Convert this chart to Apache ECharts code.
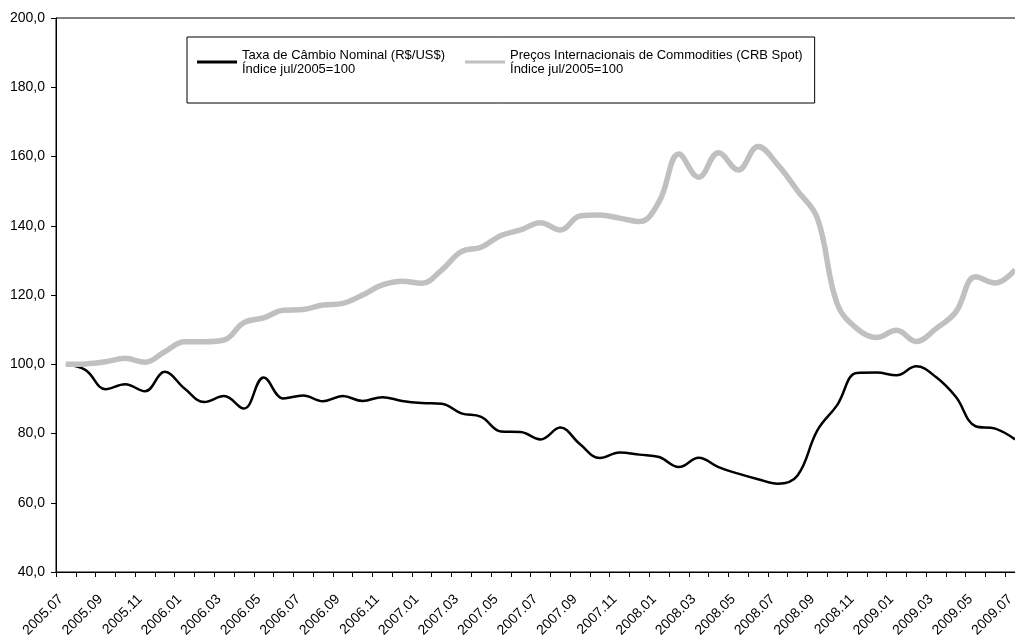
<!DOCTYPE html>
<html>
<head>
<meta charset="utf-8">
<script src="https://cdn.jsdelivr.net/npm/echarts@6/dist/echarts.min.js"></script>
<style>
html,body{margin:0;padding:0;background:#fff;}
#chart{width:1015px;height:636px;}
</style>
</head>
<body>
<div id="chart"></div>
<script>
// Months 2005.07 .. 2009.07
const months = [
  '2005.07','2005.08','2005.09','2005.10','2005.11','2005.12',
  '2006.01','2006.02','2006.03','2006.04','2006.05','2006.06','2006.07','2006.08','2006.09','2006.10','2006.11','2006.12',
  '2007.01','2007.02','2007.03','2007.04','2007.05','2007.06','2007.07','2007.08','2007.09','2007.10','2007.11','2007.12',
  '2008.01','2008.02','2008.03','2008.04','2008.05','2008.06','2008.07','2008.08','2008.09','2008.10','2008.11','2008.12',
  '2009.01','2009.02','2009.03','2009.04','2009.05','2009.06','2009.07'
];
const seriesNames = [
  'Taxa de Câmbio Nominal (R$/US$)\nÍndice jul/2005=100',
  'Preços Internacionais de Commodities (CRB Spot)\nÍndice jul/2005=100'
];
const cambio = [
  100.0, 98.3, 92.8, 94.2, 92.2, 97.8,
  93.0, 89.1, 90.8, 87.2, 96.2, 90.1, 91.0, 89.3, 90.8, 89.4, 90.5, 89.4,
  88.8, 88.6, 85.8, 84.8, 80.6, 80.4, 78.3, 81.7, 76.9, 72.9, 74.5, 73.9,
  73.2, 70.3, 73.0, 70.3, 68.4, 66.8, 65.5, 67.9, 80.9, 88.2, 97.5, 97.6,
  96.8, 99.4, 96.3, 90.6, 82.1, 81.4, 78.3
];
const crb = [
  100.0, 100.1, 100.7, 101.7, 100.6, 103.6,
  106.5, 106.5, 107.0, 112.0, 113.4, 115.6, 115.8, 117.1, 117.6, 120.0, 122.9, 124.0,
  123.4, 127.2, 132.5, 133.8, 137.2, 138.8, 140.9, 138.8, 142.8, 143.1, 142.2, 141.2,
  147.0, 160.7, 154.0, 161.1, 156.1, 162.9, 157.6, 150.1, 142.2, 117.5, 110.3, 107.7,
  109.8, 106.6, 110.3, 115.1, 125.3, 123.5, 127.3
];
const yTicks = { min: 40, max: 200, step: 20 };

const chart = echarts.init(document.getElementById('chart'), null, {renderer: 'canvas'});
const font = '"Liberation Sans", Arial, sans-serif';
chart.setOption({
  animation: false,
  backgroundColor: '#fff',
  textStyle: { fontFamily: font },
  grid: {
    left: 56, top: 18, width: 969, height: 554,
    show: true, borderColor: '#000', borderWidth: 1, backgroundColor: 'transparent',
    containLabel: false,
    outerBoundsMode: 'none'
  },
  legend: {
    left: 187, top: 37,
    orient: 'horizontal',
    backgroundColor: '#fff',
    borderColor: '#000', borderWidth: 1, borderRadius: 0,
    padding: [4, 12, 20, 10],
    itemGap: 20,
    itemWidth: 40, itemHeight: 3,
    selectedMode: false,
    textStyle: { fontFamily: font, fontSize: 13, color: '#000', lineHeight: 14, padding: [14, 0, 0, 0] },
    data: [
      { name: seriesNames[0], icon: 'rect', itemStyle: { color: '#000' } },
      { name: seriesNames[1], icon: 'rect', itemStyle: { color: '#c0c0c0' } }
    ]
  },
  xAxis: {
    type: 'category',
    data: months,
    boundaryGap: true,
    axisLine: { lineStyle: { color: '#000', width: 1 } },
    axisTick: { show: true, inside: false, length: 5, interval: 0, alignWithLabel: false, lineStyle: { color: '#000' } },
    axisLabel: {
      interval: 1, rotate: 45, margin: 20,
      padding: [0, 7, 0, 0],
      fontFamily: font, fontSize: 14, color: '#000',
      hideOverlap: false
    },
    splitLine: { show: false }
  },
  yAxis: {
    type: 'value',
    min: yTicks.min, max: yTicks.max, interval: yTicks.step,
    axisLine: { show: true, lineStyle: { color: '#000', width: 1 } },
    axisTick: { show: true, inside: false, length: 5, lineStyle: { color: '#000' } },
    axisLabel: {
      margin: 11, fontFamily: font, fontSize: 14, color: '#000',
      formatter: v => v.toFixed(1).replace('.', ',')
    },
    splitLine: { show: false }
  },
  series: [
    {
      name: seriesNames[0], type: 'line', data: cambio,
      smooth: 0.4, showSymbol: false, symbol: 'none',
      itemStyle: { color: '#000' },
      lineStyle: { color: '#000', width: 2.5 },
      z: 2
    },
    {
      name: seriesNames[1], type: 'line', data: crb,
      smooth: 0.4, showSymbol: false, symbol: 'none',
      itemStyle: { color: '#c0c0c0' },
      lineStyle: { color: '#c0c0c0', width: 5.5 },
      z: 3
    }
  ]
});
</script>
</body>
</html>
